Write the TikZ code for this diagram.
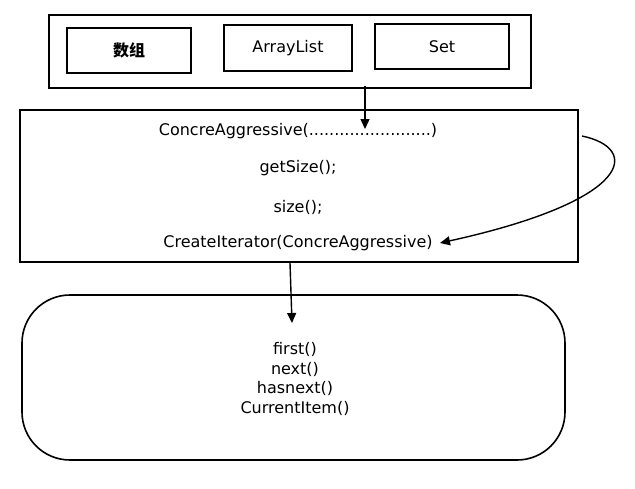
\documentclass[tikz,border=0pt]{standalone}
\usepackage{fontspec}
\setmainfont{DejaVu Sans}
\newfontfamily\cjk{Noto Sans CJK SC}
\usetikzlibrary{arrows.meta}
\begin{document}
\begin{tikzpicture}[x=1pt,y=-1pt,
  box/.style={draw,line width=1.6pt},
  lbl/.style={font=\fontsize{16}{19.5}\selectfont,inner sep=0pt},
  arr/.style={line width=1.4pt,-{Triangle[length=10pt,width=9pt]}}]
\useasboundingbox (0,0) rectangle (635,488);
\fill[white] (0,0) rectangle (635,488);
\draw[box] (49,15) rectangle (531,88);
\node[box,minimum width=124pt,minimum height=45pt,lbl] (arr1) at (129,50.5) {\cjk\bfseries 数组};
\node[box,minimum width=128pt,minimum height=46pt,lbl] (al) at (288,48) {ArrayList};
\node[box,minimum width=134pt,minimum height=45pt,lbl] (set) at (442,46.5) {Set};
\coordinate (top) at (365,86);
\draw[box] (20,110) rectangle (578,262);
\node[lbl] (c1) at (298,131) {ConcreAggressive(........................)};
\node[lbl] (c2) at (298,168) {getSize();};
\node[lbl] (c3) at (298,207) {size();};
\node[lbl] (c4) at (298,243) {CreateIterator(ConcreAggressive)};
\coordinate (midtop) at (365,129);
\draw[arr] (top) -- (midtop);
\coordinate (cs) at (582,136);
\draw[arr] (cs) .. controls (640,148) and (635,200) .. (440,243);
\draw[box,rounded corners=48pt] (22,295) rectangle (565,460);
\coordinate (mb) at (290,263);
\coordinate (bt) at (292,323);
\draw[arr] (mb) -- (bt);
\node[lbl,align=center] (it) at (295,379) {first()\\next()\\hasnext()\\CurrentItem()};
\end{tikzpicture}
\end{document}
